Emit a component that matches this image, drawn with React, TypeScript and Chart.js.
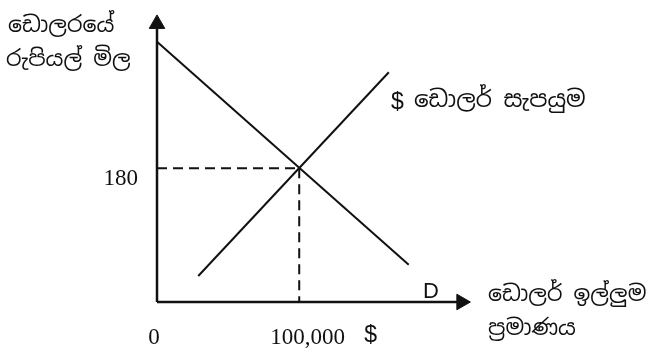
import React, { useEffect, useRef } from "react";
import { Chart, registerables } from "chart.js";

Chart.register(...registerables);

const equilibriumQty = 100000;
const equilibriumPrice = 180;
const demandLine = [
  { x: 0, y: 350 },
  { x: 177000, y: 50 },
];
const supplyLine = [
  { x: 29000, y: 35 },
  { x: 163000, y: 309 },
];
const xAxisMax = 225000;
const yAxisMax = 390;
const yTickLabel = "180";
const xTickLabels = ["0", "100,000"];
const yTitleLines = ["ඩොලරයේ", "රුපියල් මිල"];
const xTitleLines = ["ඩොලර් ඉල්ලුම", "ප්‍රමාණය"];
const supplyLabel = "ඩොලර් සැපයුම";
const demandLabel = "D";

const SINHALA = '"Noto Sans Sinhala", "Noto Serif Sinhala", "Iskoola Pota", sans-serif';
const SERIF = '"Liberation Serif", "Times New Roman", serif';
const SANS = '"Liberation Sans", Arial, sans-serif';

const textPlugin = {
  id: "textPlugin",
  afterDraw(chart: any) {
    const ctx = chart.ctx;
    const xs = chart.scales.x;
    const ys = chart.scales.y;
    const x0 = xs.getPixelForValue(0);
    const y0 = ys.getPixelForValue(0);
    const xe = xs.getPixelForValue(equilibriumQty);
    const ye = ys.getPixelForValue(equilibriumPrice);
    ctx.save();
    ctx.fillStyle = "#111";
    ctx.textBaseline = "middle";
    // y tick
    ctx.font = `23px ${SERIF}`;
    ctx.textAlign = "right";
    ctx.fillText(yTickLabel, x0 - 19, ye + 11);
    // x ticks
    ctx.textAlign = "center";
    ctx.fillText(xTickLabels[0], x0 - 3, y0 + 36);
    ctx.textAlign = "left";
    ctx.fillText(xTickLabels[1], xe - 29, y0 + 36);
    ctx.font = `23px ${SANS}`;
    ctx.fillText("$", xe + 65, y0 + 34);
    // D label
    ctx.font = `22px ${SANS}`;
    ctx.fillText(demandLabel, xs.getPixelForValue(187000), y0 - 10);
    // supply label
    ctx.font = `23px ${SANS}`;
    ctx.fillText("$", 391, 103);
    ctx.font = `23px ${SINHALA}`;
    ctx.fillText(supplyLabel, 414, 101);
    // y title
    ctx.font = `22px ${SINHALA}`;
    ctx.fillText(yTitleLines[0], 8, 26);
    ctx.fillText(yTitleLines[1], 6, 60);
    // x title
    ctx.fillText(xTitleLines[0], 488, 295);
    ctx.fillText(xTitleLines[1], 488, 329);
    ctx.restore();
  },
};

export default function App() {
  const ref = useRef<HTMLCanvasElement | null>(null);
  useEffect(() => {
    if (!ref.current) return;
    const black = "#111";
    const chart = new Chart(ref.current, {
      type: "scatter",
      data: {
        datasets: [
          {
            data: [
              { x: 0, y: 0 },
              { x: xAxisMax - 8000, y: 0 },
            ],
            showLine: true,
            borderColor: black,
            borderWidth: 2.5,
            pointRadius: 0,
            clip: false,
          },
          {
            data: [
              { x: 0, y: 0 },
              { x: 0, y: yAxisMax - 12 },
            ],
            showLine: true,
            borderColor: black,
            borderWidth: 2.5,
            pointRadius: 0,
            clip: false,
          },
          {
            data: [{ x: xAxisMax - 11000, y: 0 }],
            pointStyle: "triangle",
            rotation: 90,
            radius: 9,
            backgroundColor: black,
            borderColor: black,
            borderWidth: 1,
            clip: false,
          },
          {
            data: [{ x: 0, y: yAxisMax - 16 }],
            pointStyle: "triangle",
            rotation: 0,
            radius: 9,
            backgroundColor: black,
            borderColor: black,
            borderWidth: 1,
            clip: false,
          },
          {
            data: demandLine,
            showLine: true,
            borderColor: black,
            borderWidth: 2,
            pointRadius: 0,
            clip: false,
          },
          {
            data: supplyLine,
            showLine: true,
            borderColor: black,
            borderWidth: 2,
            pointRadius: 0,
            clip: false,
          },
          {
            data: [
              { x: 0, y: equilibriumPrice },
              { x: equilibriumQty, y: equilibriumPrice },
            ],
            showLine: true,
            borderColor: black,
            borderWidth: 2,
            borderDash: [10, 6],
            pointRadius: 0,
          },
          {
            data: [
              { x: equilibriumQty, y: equilibriumPrice },
              { x: equilibriumQty, y: 0 },
            ],
            showLine: true,
            borderColor: black,
            borderWidth: 2,
            borderDash: [10, 6],
            pointRadius: 0,
          },
        ],
      },
      options: {
        animation: false,
        responsive: false,
        events: [],
        layout: { padding: { left: 157, right: 178, top: 12, bottom: 50 } },
        plugins: { legend: { display: false }, tooltip: { enabled: false } },
        scales: {
          x: { type: "linear", min: 0, max: xAxisMax, display: false },
          y: { type: "linear", min: 0, max: yAxisMax, display: false },
        },
      },
      plugins: [textPlugin],
    });
    return () => chart.destroy();
  }, []);
  return (
    <div style={{ position: "absolute", left: 0, top: 0, width: 655, height: 352, background: "#fff" }}>
      <canvas ref={ref} width={655} height={352} />
    </div>
  );
}
